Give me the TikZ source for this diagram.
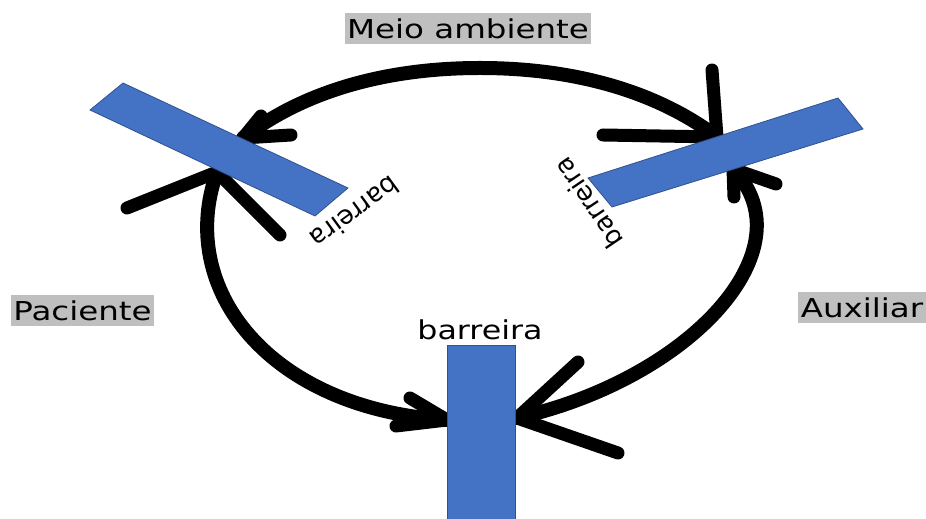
\documentclass[tikz,border=0pt]{standalone}
\usepackage{fontspec}
\setmainfont{DejaVu Sans}
\usetikzlibrary{positioning}
\definecolor{barblue}{HTML}{4472C4}
\definecolor{barline}{HTML}{2F528F}
\tikzset{
	cycle/.style={line width=14pt, line cap=round},
	head/.style={line width=13pt, line cap=round, line join=round},
	barrier/.style={fill=barblue, draw=barline, line width=0.8pt},
	tag/.style={fill=black!25, inner xsep=2pt, inner ysep=0pt, minimum height=31pt, xscale=1.25, font=\fontsize{26}{30}\selectfont},
	lbl/.style={font=\fontsize{26}{30}\selectfont, inner sep=0pt}
}
\begin{document}
\begin{tikzpicture}[x=1pt, y=1pt]
		\useasboundingbox (0,0) rectangle (926,519);
			%arrow tips:
			\coordinate (tipTL) at (243,381);
			\coordinate (tipL) at (217,347);
			\coordinate (tipTR) at (717,382);
			\coordinate (tipR) at (733,350);
			\coordinate (tipBL) at (447,99);
			\coordinate (tipBR) at (517,101);
			\coordinate (top) at (480,451);

			%cycle arcs:
			\draw[cycle] (tipTL) .. controls (300,425) and (380,451) .. (top) .. controls (580,451) and (660,425) .. (tipTR);
			\draw[cycle] (tipL) .. controls (175,230) and (270,110) .. (tipBL);
			\draw[cycle] (tipBR) .. controls (690,140) and (810,270) .. (tipR);

			%arrow heads:
			\draw[head] (261,403) -- (tipTL) -- (291,384);
			\draw[head] (127,311) -- (tipL) -- (280,284);
			\draw[head] (712,449) -- (tipTR) -- (603,384);
			\draw[head] (776,335) -- (tipR) -- (734,322);
			\draw[head] (410,121) -- (tipBL) -- (396,93);
			\draw[head] (578,157) -- (tipBR) -- (618,66);

			%barriers:
			\filldraw[barrier] (90,409) -- (123,436) -- (348,331) -- (315,303) -- cycle;
			\filldraw[barrier] (588,341) -- (838,421) -- (863,390) -- (612,312) -- cycle;
			\filldraw[barrier] (447,-2) rectangle (515,174);
			\node[lbl, rotate=216] (barL) at (355,306) {barreira};
			\node[lbl, rotate=124] (barR) at (588,316) {barreira};
			\node[lbl, anchor=base, xscale=1.22] (barB) at (480,179) {barreira};

			%labels:
			\node[tag] (meio) at (468,490.5) {Meio ambiente};
			\node[tag] (paciente) at (82.5,208) {Paciente};
			\node[tag] (auxiliar) at (862,211) {Auxiliar};
	\end{tikzpicture}
\end{document}
